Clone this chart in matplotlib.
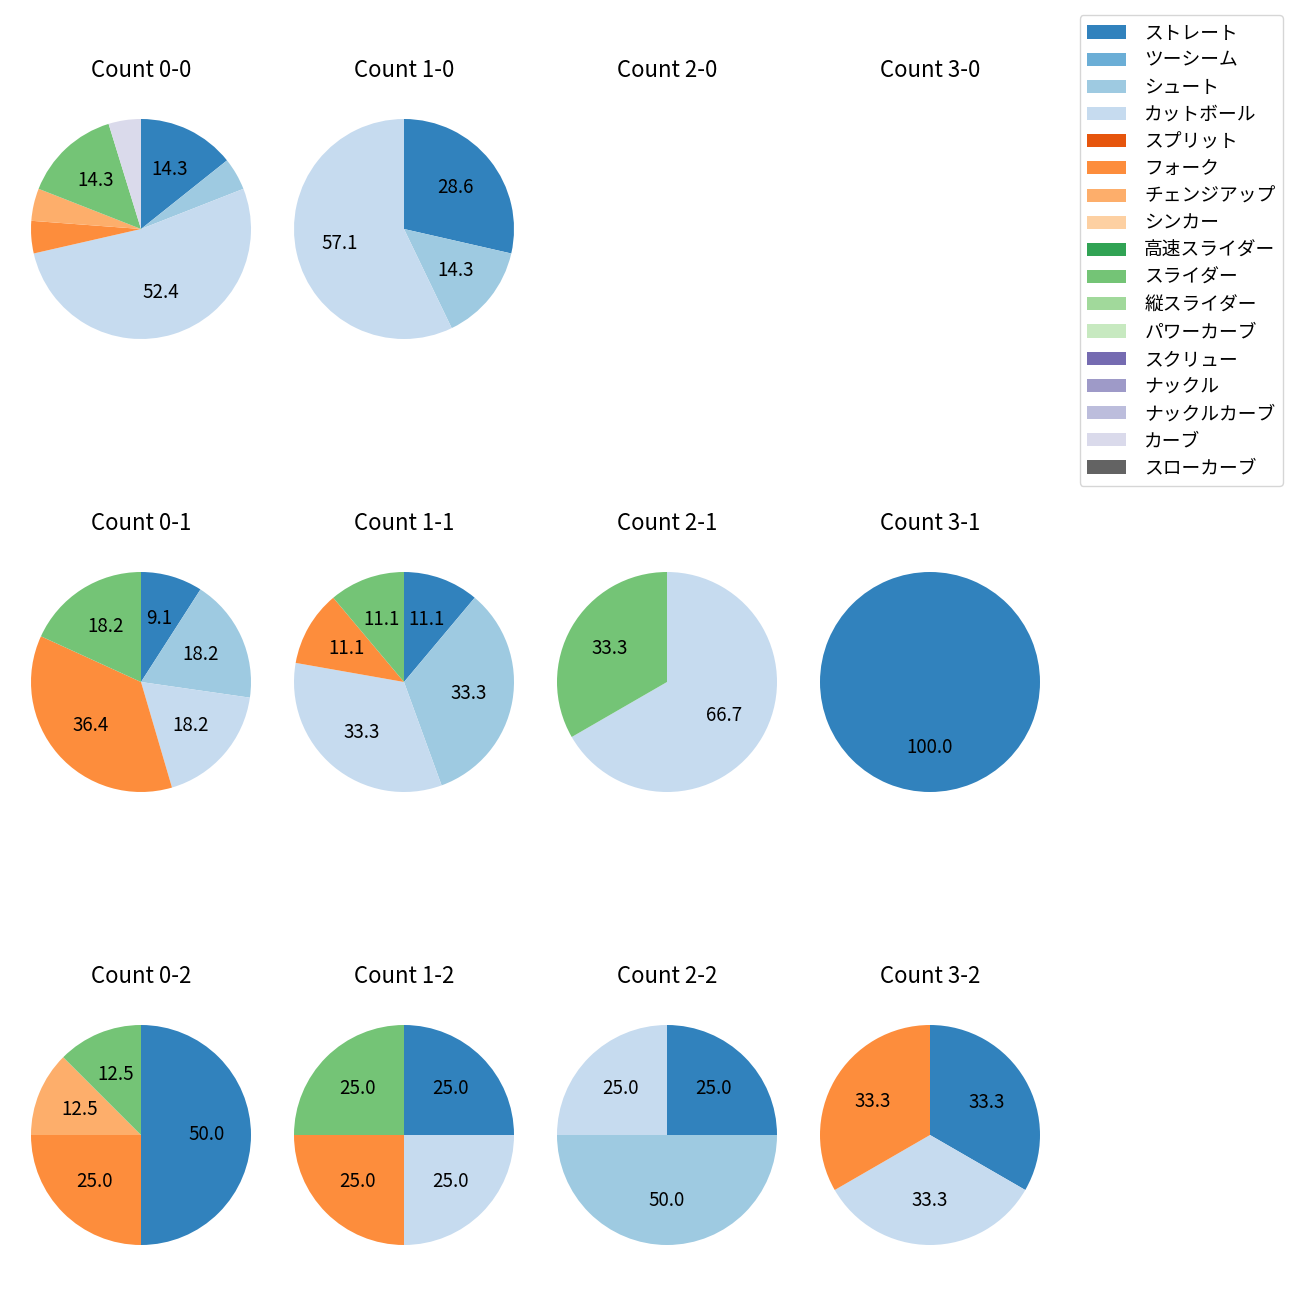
import matplotlib
matplotlib.use('Agg')
import matplotlib.pyplot as plt
from matplotlib.patches import Patch

plt.rcParams['font.family'] = ['Noto Sans CJK JP', 'DejaVu Sans']

pitch_types = ['ストレート', 'ツーシーム', 'シュート', 'カットボール', 'スプリット', 'フォーク',
               'チェンジアップ', 'シンカー', '高速スライダー', 'スライダー', '縦スライダー',
               'パワーカーブ', 'スクリュー', 'ナックル', 'ナックルカーブ', 'カーブ', 'スローカーブ']
pitch_colors = list(plt.get_cmap('tab20c').colors[:17])

# pitch counts per ball-strike count, ordered like pitch_types
count_0_0 = [3, 0, 1, 11, 0, 1, 1, 0, 0, 3, 0, 0, 0, 0, 0, 1, 0]
count_1_0 = [2, 0, 1, 4, 0, 0, 0, 0, 0, 0, 0, 0, 0, 0, 0, 0, 0]
count_2_0 = [0] * 17
count_3_0 = [0] * 17
count_0_1 = [1, 0, 2, 2, 0, 4, 0, 0, 0, 2, 0, 0, 0, 0, 0, 0, 0]
count_1_1 = [1, 0, 3, 3, 0, 1, 0, 0, 0, 1, 0, 0, 0, 0, 0, 0, 0]
count_2_1 = [0, 0, 0, 2, 0, 0, 0, 0, 0, 1, 0, 0, 0, 0, 0, 0, 0]
count_3_1 = [1, 0, 0, 0, 0, 0, 0, 0, 0, 0, 0, 0, 0, 0, 0, 0, 0]
count_0_2 = [4, 0, 0, 0, 0, 2, 1, 0, 0, 1, 0, 0, 0, 0, 0, 0, 0]
count_1_2 = [1, 0, 0, 1, 0, 1, 0, 0, 0, 1, 0, 0, 0, 0, 0, 0, 0]
count_2_2 = [1, 0, 2, 1, 0, 0, 0, 0, 0, 0, 0, 0, 0, 0, 0, 0, 0]
count_3_2 = [1, 0, 0, 1, 0, 1, 0, 0, 0, 0, 0, 0, 0, 0, 0, 0, 0]

count_data = {
    (0, 0): count_0_0, (1, 0): count_1_0, (2, 0): count_2_0, (3, 0): count_3_0,
    (0, 1): count_0_1, (1, 1): count_1_1, (2, 1): count_2_1, (3, 1): count_3_1,
    (0, 2): count_0_2, (1, 2): count_1_2, (2, 2): count_2_2, (3, 2): count_3_2,
}

fig = plt.figure(figsize=(13, 13), dpi=100)
gs = fig.add_gridspec(3, 4, left=3.5 / 1300, right=1067.5 / 1300,
                      top=1 - 91.5 / 1300, bottom=1 - 1272.5 / 1300,
                      wspace=-12 / 275, hspace=178 / 275)

for strikes in range(3):
    for balls in range(4):
        ax = fig.add_subplot(gs[strikes, balls])
        vals = count_data[(balls, strikes)]
        ax.set_title(f'Count {balls}-{strikes}', fontsize=16, pad=10.5)
        if sum(vals) == 0:
            ax.axis('off')
            continue
        v = [x for x in vals if x > 0]
        c = [pitch_colors[i] for i, x in enumerate(vals) if x > 0]
        ax.pie(v, colors=c, startangle=90, counterclock=False,
               autopct=lambda p: f'{p:.1f}' if p >= 5 else '',
               textprops={'fontsize': 13.5})
        ax.set_aspect('equal')

handles = [Patch(facecolor=col, label=lab) for col, lab in zip(pitch_colors, pitch_types)]
fig.legend(handles=handles, loc='upper right', bbox_to_anchor=(1283 / 1300, 1 - 15 / 1300),
           fontsize=13.5, borderaxespad=0, labelspacing=0.33, handletextpad=0.95,
           handlelength=2.1, borderpad=0.4)

fig.savefig('out.png', dpi=100)
